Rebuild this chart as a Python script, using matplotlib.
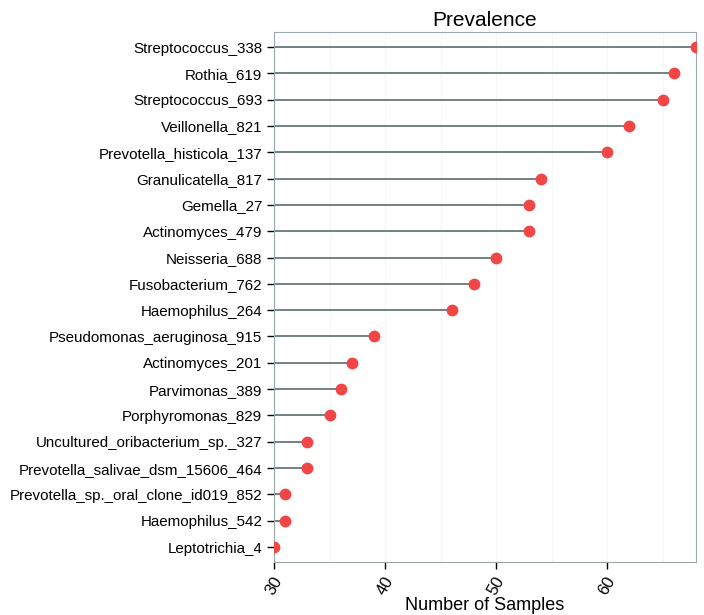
import matplotlib.pyplot as plt

plt.rcParams['font.family'] = ['Liberation Sans', 'DejaVu Sans']

taxa = ['Streptococcus_338', 'Rothia_619', 'Streptococcus_693', 'Veillonella_821',
        'Prevotella_histicola_137', 'Granulicatella_817', 'Gemella_27', 'Actinomyces_479',
        'Neisseria_688', 'Fusobacterium_762', 'Haemophilus_264', 'Pseudomonas_aeruginosa_915',
        'Actinomyces_201', 'Parvimonas_389', 'Porphyromonas_829',
        'Uncultured_oribacterium_sp._327', 'Prevotella_salivae_dsm_15606_464',
        'Prevotella_sp._oral_clone_id019_852', 'Haemophilus_542', 'Leptotrichia_4']
samples = [68, 66, 65, 62, 60, 54, 53, 53, 50, 48, 46, 39, 37, 36, 35, 33, 33, 31, 31, 30]
xticks = [30, 40, 50, 60]

fig = plt.figure(figsize=(7.04, 6.15), dpi=100)
ax = fig.add_axes([274/704, 1-562/615, 422/704, 530/615])

ypos = list(range(len(taxa)))[::-1]
ax.hlines(ypos, 30, samples, color='#728282', lw=1.4, zorder=2)
ax.scatter(samples, ypos, s=56, color='#f24646', zorder=3)

ax.set_xlim(30, 68)
ax.set_ylim(-0.57, 19.57)
ax.set_yticks(ypos)
ax.set_yticklabels(taxa, fontsize=10.9)
ax.set_xticks(xticks)
ax.set_xticklabels([str(t) for t in xticks], rotation=60, fontsize=12)
ax.set_xticks([35, 45, 55, 65], minor=True)
ax.grid(True, which='both', axis='x', color='#f6f6f6', lw=0.8, zorder=0)
ax.tick_params(axis='both', which='major', length=5, width=1, color='black')
ax.tick_params(axis='x', which='minor', length=0)
for s in ax.spines.values():
    s.set_color('#9aa8a8')
ax.set_title('Prevalence', fontsize=15, pad=4)
ax.set_xlabel('Number of Samples', fontsize=13, labelpad=0)

fig.savefig('out.png', dpi=100)
